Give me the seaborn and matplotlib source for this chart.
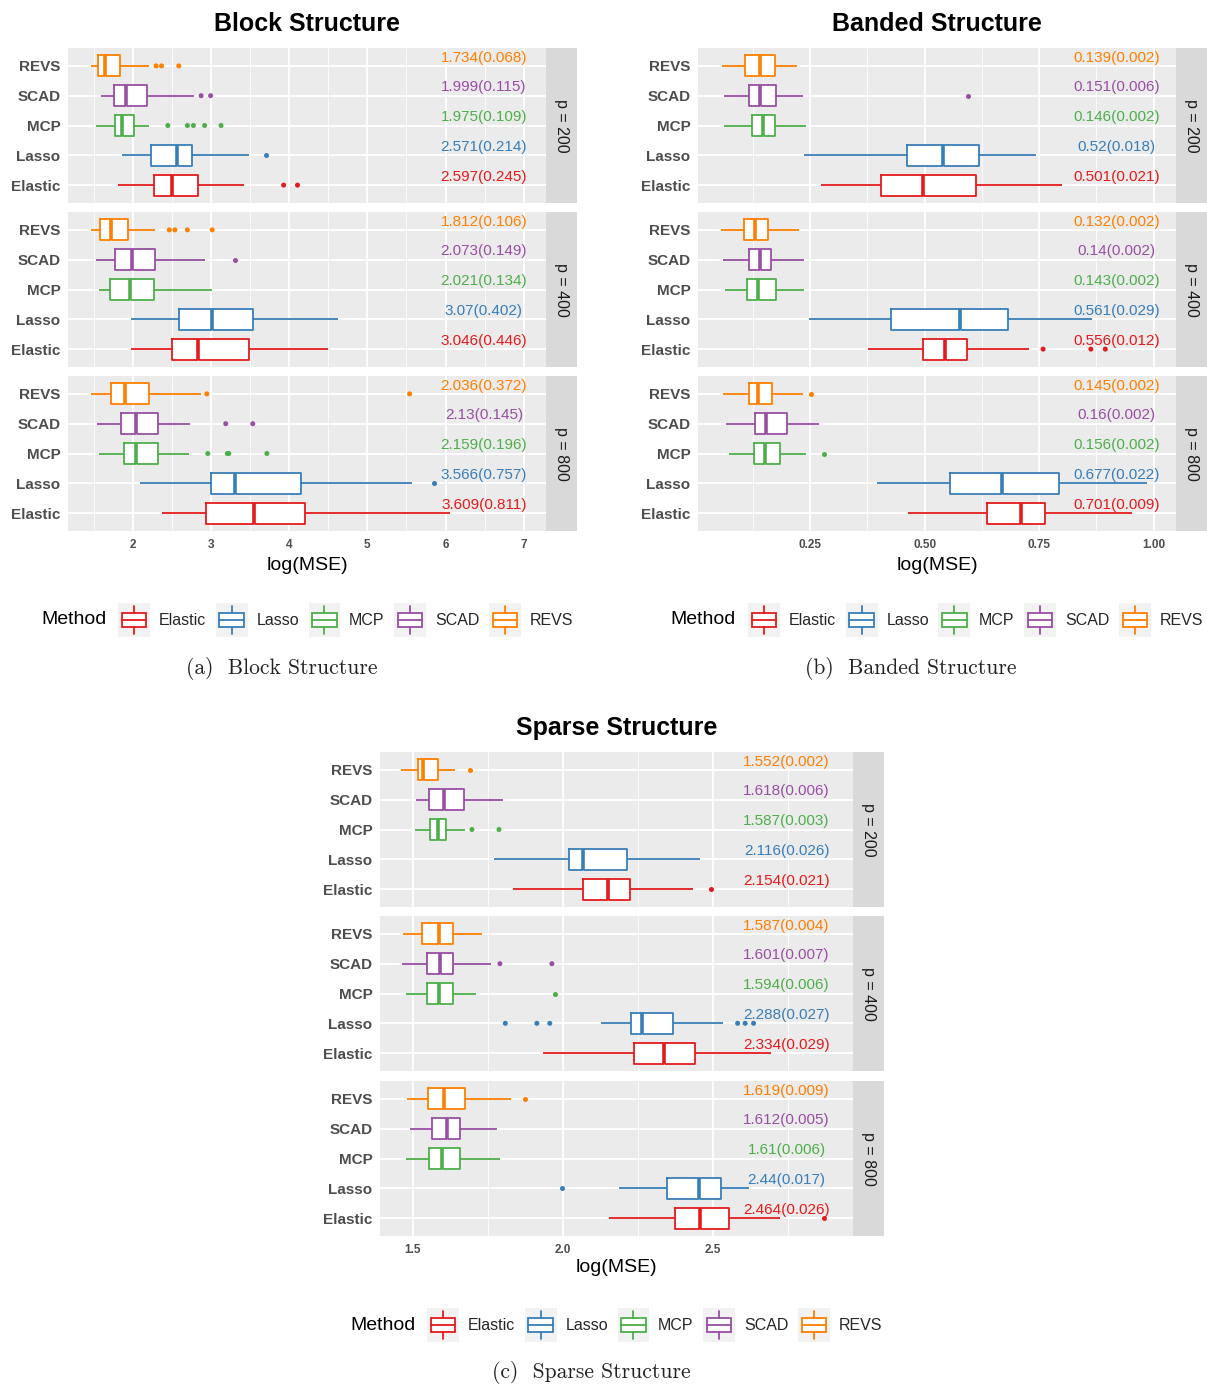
import numpy as np
import pandas as pd
import seaborn as sns
import matplotlib.pyplot as plt
from matplotlib.patches import Rectangle
from matplotlib.lines import Line2D
from matplotlib.legend_handler import HandlerBase

sns.set_theme(style="darkgrid")
plt.rcParams['font.family'] = ['Liberation Sans', 'DejaVu Sans']

methods = ["REVS", "SCAD", "MCP", "Lasso", "Elastic"]          # top to bottom
legend_order = ["Elastic", "Lasso", "MCP", "SCAD", "REVS"]
colors = dict(zip(legend_order, sns.color_palette("Set1", 5)))
facets = ["p = 200", "p = 400", "p = 800"]

# ---- Block structure: five-number summaries, rows = p 200/400/800, cols = methods
block_lo = [[1.467, 1.59, 1.536, 1.858, 1.814],
            [1.467, 1.526, 1.565, 1.985, 1.976],
            [1.467, 1.55, 1.565, 2.088, 2.381]]
block_q1 = [[1.555, 1.756, 1.775, 2.235, 2.279],
            [1.589, 1.78, 1.712, 2.591, 2.503],
            [1.726, 1.853, 1.89, 2.997, 2.934]]
block_med = [[1.653, 1.917, 1.868, 2.567, 2.508],
             [1.726, 1.995, 1.97, 3.017, 2.84],
             [1.907, 2.044, 2.044, 3.305, 3.545]]
block_q3 = [[1.834, 2.19, 2.015, 2.753, 2.836],
            [1.941, 2.288, 2.279, 3.535, 3.49],
            [2.21, 2.32, 2.32, 4.146, 4.204]]
block_hi = [[2.21, 2.787, 2.21, 3.486, 3.427],
            [2.283, 2.919, 3.012, 4.63, 4.50],
            [2.87, 2.738, 2.718, 5.573, 6.06]]
block_out = [[[2.30, 2.37, 2.59], [2.875, 2.997], [2.45, 2.70, 2.777, 2.92, 3.13], [3.70], [3.93, 4.107]],
             [[2.469, 2.54, 2.70, 3.017], [3.31], [], [], []],
             [[2.948, 5.54], [3.19, 3.535], [2.96, 3.21, 3.23, 3.716], [5.856], []]]
block_means = [["1.734(0.068)", "1.999(0.115)", "1.975(0.109)", "2.571(0.214)", "2.597(0.245)"],
               ["1.812(0.106)", "2.073(0.149)", "2.021(0.134)", "3.07(0.402)", "3.046(0.446)"],
               ["2.036(0.372)", "2.13(0.145)", "2.159(0.196)", "3.566(0.757)", "3.609(0.811)"]]

# ---- Banded structure
band_lo = [[0.0576, 0.0619, 0.0619, 0.237, 0.2745],
           [0.056, 0.060, 0.065, 0.2466, 0.3766],
           [0.060, 0.066, 0.0737, 0.396, 0.4626]]
band_q1 = [[0.1066, 0.116, 0.1234, 0.461, 0.404],
           [0.1057, 0.116, 0.1125, 0.426, 0.4955],
           [0.116, 0.1294, 0.1268, 0.556, 0.6356]]
band_med = [[0.1395, 0.1395, 0.146, 0.540, 0.497],
            [0.129, 0.1395, 0.136, 0.5765, 0.5444],
            [0.1353, 0.153, 0.152, 0.669, 0.7115]]
band_q3 = [[0.1724, 0.1758, 0.173, 0.619, 0.612],
           [0.158, 0.164, 0.1758, 0.682, 0.5917],
           [0.1673, 0.1985, 0.185, 0.7925, 0.7638]]
band_hi = [[0.222, 0.234, 0.2416, 0.743, 0.801],
           [0.226, 0.2357, 0.2357, 0.866, 0.728],
           [0.2348, 0.270, 0.2416, 0.9857, 0.9536]]
band_out = [[[], [0.594], [], [], []],
            [[], [], [], [], [0.7587, 0.863, 0.8946]],
            [[0.2517], [], [0.2795], [], []]]
band_means = [["0.139(0.002)", "0.151(0.006)", "0.146(0.002)", "0.52(0.018)", "0.501(0.021)"],
              ["0.132(0.002)", "0.14(0.002)", "0.143(0.002)", "0.561(0.029)", "0.556(0.012)"],
              ["0.145(0.002)", "0.16(0.002)", "0.156(0.002)", "0.677(0.022)", "0.701(0.009)"]]

# ---- Sparse structure
sparse_lo = [[1.462, 1.511, 1.506, 1.772, 1.834],
             [1.468, 1.465, 1.478, 2.128, 1.935],
             [1.481, 1.492, 1.477, 2.186, 2.152]]
sparse_q1 = [[1.519, 1.553, 1.557, 2.020, 2.066],
             [1.532, 1.548, 1.548, 2.227, 2.237],
             [1.551, 1.564, 1.553, 2.347, 2.374]]
sparse_med = [[1.534, 1.604, 1.585, 2.065, 2.151],
              [1.587, 1.591, 1.587, 2.264, 2.336],
              [1.604, 1.614, 1.597, 2.452, 2.457]]
sparse_q3 = [[1.585, 1.669, 1.611, 2.214, 2.224],
             [1.635, 1.635, 1.635, 2.365, 2.438],
             [1.673, 1.658, 1.656, 2.525, 2.552]]
sparse_hi = [[1.640, 1.800, 1.673, 2.457, 2.434],
             [1.731, 1.759, 1.711, 2.533, 2.691],
             [1.827, 1.781, 1.790, 2.619, 2.722]]
sparse_out = [[[1.690], [], [1.697, 1.787], [], [2.494]],
              [[], [1.790, 1.963], [1.973], [1.808, 1.913, 1.956, 2.581, 2.606, 2.634], []],
              [[1.875], [], [], [1.998], [2.870]]]
sparse_means = [["1.552(0.002)", "1.618(0.006)", "1.587(0.003)", "2.116(0.026)", "2.154(0.021)"],
                ["1.587(0.004)", "1.601(0.007)", "1.594(0.006)", "2.288(0.027)", "2.334(0.029)"],
                ["1.619(0.009)", "1.612(0.005)", "1.61(0.006)", "2.44(0.017)", "2.464(0.026)"]]

W, H = 1207, 1385
fig = plt.figure(figsize=(W / 100, H / 100), dpi=100)
fig.patch.set_facecolor("white")


def px(x0, y0, x1, y1):
    return [x0 / W, 1 - y1 / H, (x1 - x0) / W, (y1 - y0) / H]


class BoxKey(HandlerBase):
    def create_artists(self, legend, orig_handle, xdescent, ydescent, width, height, fontsize, trans):
        c = orig_handle.get_edgecolor()
        x0, y0 = -xdescent, -ydescent
        bg = Rectangle((x0, y0), width, height, facecolor="#F2F2F2", edgecolor="none", transform=trans)
        box = Rectangle((x0 + 0.12 * width, y0 + 0.28 * height), 0.76 * width, 0.44 * height,
                        facecolor="white", edgecolor=c, lw=1.3, transform=trans)
        xm = x0 + width / 2
        w1 = Line2D([xm, xm], [y0 + 0.1 * height, y0 + 0.28 * height], color=c, lw=1.3, transform=trans)
        w2 = Line2D([xm, xm], [y0 + 0.72 * height, y0 + 0.9 * height], color=c, lw=1.3, transform=trans)
        md = Line2D([x0 + 0.12 * width, x0 + 0.88 * width], [y0 + 0.5 * height] * 2, color=c, lw=1.3,
                    transform=trans)
        return [bg, box, w1, w2, md]


def draw_structure(title, lo, q1, med, q3, hi, outl, means, lay):
    x0, x1 = lay["x0"], lay["x1"]
    for f in range(3):
        top = lay["tops"][f]
        ax = fig.add_axes(px(x0, top, x1, top + 155))
        rows = [(m, v) for i, m in enumerate(methods)
                for v in (lo[f][i], q1[f][i], med[f][i], q3[f][i], hi[f][i])]
        df = pd.DataFrame(rows, columns=["Method", "value"])
        # white box bodies underneath
        sns.boxplot(data=df, x="value", y="Method", order=methods, color="white", linecolor="white",
                    linewidth=0.5, whis=(0, 100), width=0.7, showcaps=False, ax=ax)
        sns.boxplot(data=df, x="value", y="Method", order=methods, hue="Method", hue_order=legend_order,
                    palette=colors, fill=False, linewidth=1.3, whis=(0, 100), width=0.7,
                    showcaps=False, medianprops={"linewidth": 2.6}, legend=False, ax=ax)
        orows = [(m, v) for i, m in enumerate(methods) for v in outl[f][i]]
        if orows:
            odf = pd.DataFrame(orows, columns=["Method", "value"])
            sns.stripplot(data=odf, x="value", y="Method", order=methods, hue="Method",
                          hue_order=legend_order, palette=colors, jitter=False, size=3.6,
                          linewidth=0, legend=False, ax=ax)
        for i, m in enumerate(methods):
            ax.text(lay["text_x"], i - 0.28, means[f][i], color=colors[m], ha="center", va="center",
                    fontsize=11)
        ax.set_facecolor("#EBEBEB")
        for s in ax.spines.values():
            s.set_visible(False)
        ax.set_xlim(lay["xlim"])
        ax.set_ylim(4.6, -0.6)
        ax.set_yticks(range(5), methods, fontweight="bold", fontsize=11, color="#4D4D4D")
        ax.set_xticks(lay["minor"], minor=True)
        if f == 2:
            ax.set_xticks(lay["major"], lay["majlab"], fontweight="bold", fontsize=8.5, color="#4D4D4D")
        else:
            ax.set_xticks(lay["major"])
            ax.tick_params(axis="x", which="both", length=0, labelbottom=False)
        ax.tick_params(axis="both", which="major", length=3.5, width=1, color="#333333", pad=2)
        ax.tick_params(axis="x", which="minor", length=0)
        if f < 2:
            ax.tick_params(axis="x", length=0)
        ax.set_axisbelow(True)
        ax.grid(True, which="major", color="white", lw=1.3)
        ax.grid(True, which="minor", axis="x", color="white", lw=0.6)
        ax.set_xlabel("")
        ax.set_ylabel("")
        # facet strip
        sax = fig.add_axes(px(x1, top, x1 + 31, top + 155))
        sax.set_facecolor("#D9D9D9")
        sax.set_xticks([])
        sax.set_yticks([])
        sax.grid(False)
        for s in sax.spines.values():
            s.set_visible(False)
        sax.text(0.5, 0.5, facets[f], rotation=270, ha="center", va="center", fontsize=11.5,
                 color="#1A1A1A", transform=sax.transAxes)

    cx = (x0 + x1) / 2
    fig.text(cx / W, 1 - lay["title_y"] / H, title, ha="center", va="center", fontsize=18,
             fontweight="bold", color="black")
    fig.text(cx / W, 1 - lay["xlab_y"] / H, "log(MSE)", ha="center", va="center", fontsize=14,
             color="black")
    fig.text(lay["meth_x"] / W, 1 - lay["leg_y"] / H, "Method", ha="left", va="center", fontsize=14,
             color="black")
    handles = [Rectangle((0, 0), 1, 1, edgecolor=colors[m]) for m in legend_order]
    fig.legend(handles, legend_order, loc="center left",
               bbox_to_anchor=(lay["leg_x"] / W, 1 - lay["leg_y"] / H), ncol=5, frameon=False,
               handler_map={Rectangle: BoxKey()}, handlelength=2.0, handleheight=2.9,
               handletextpad=0.55, columnspacing=0.6, fontsize=11.5, borderaxespad=0, borderpad=0)
    fig.text(lay["cap_x"] / W, 1 - lay["cap_y"] / H, lay["caption"], ha="center", va="center",
             fontsize=15.5, family="cmr10", color="#222222")


lay_a = dict(x0=68, x1=546, tops=[48, 212, 376], xlim=(1.174, 7.283),
             major=[2, 3, 4, 5, 6, 7], majlab=["2", "3", "4", "5", "6", "7"],
             minor=[1.5, 2.5, 3.5, 4.5, 5.5, 6.5], text_x=6.49, title_y=24, xlab_y=565,
             meth_x=41, leg_x=118, leg_y=620, cap_x=282, cap_y=668, caption="(a)  Block Structure")
lay_b = dict(x0=698, x1=1176, tops=[48, 212, 376], xlim=(0.005, 1.049),
             major=[0.25, 0.5, 0.75, 1.0], majlab=["0.25", "0.50", "0.75", "1.00"],
             minor=[0.125, 0.375, 0.625, 0.875], text_x=0.919, title_y=24, xlab_y=565,
             meth_x=670, leg_x=748, leg_y=620, cap_x=911, cap_y=668, caption="(b)  Banded Structure")
lay_c = dict(x0=380, x1=853, tops=[752, 916, 1081], xlim=(1.391, 2.965),
             major=[1.5, 2.0, 2.5], majlab=["1.5", "2.0", "2.5"],
             minor=[1.75, 2.25, 2.75], text_x=2.744, title_y=728, xlab_y=1268,
             meth_x=350, leg_x=427, leg_y=1325, cap_x=591, cap_y=1372, caption="(c)  Sparse Structure")

draw_structure("Block Structure", block_lo, block_q1, block_med, block_q3, block_hi, block_out,
               block_means, lay_a)
draw_structure("Banded Structure", band_lo, band_q1, band_med, band_q3, band_hi, band_out,
               band_means, lay_b)
draw_structure("Sparse Structure", sparse_lo, sparse_q1, sparse_med, sparse_q3, sparse_hi, sparse_out,
               sparse_means, lay_c)

fig.savefig("out.png", dpi=100)
